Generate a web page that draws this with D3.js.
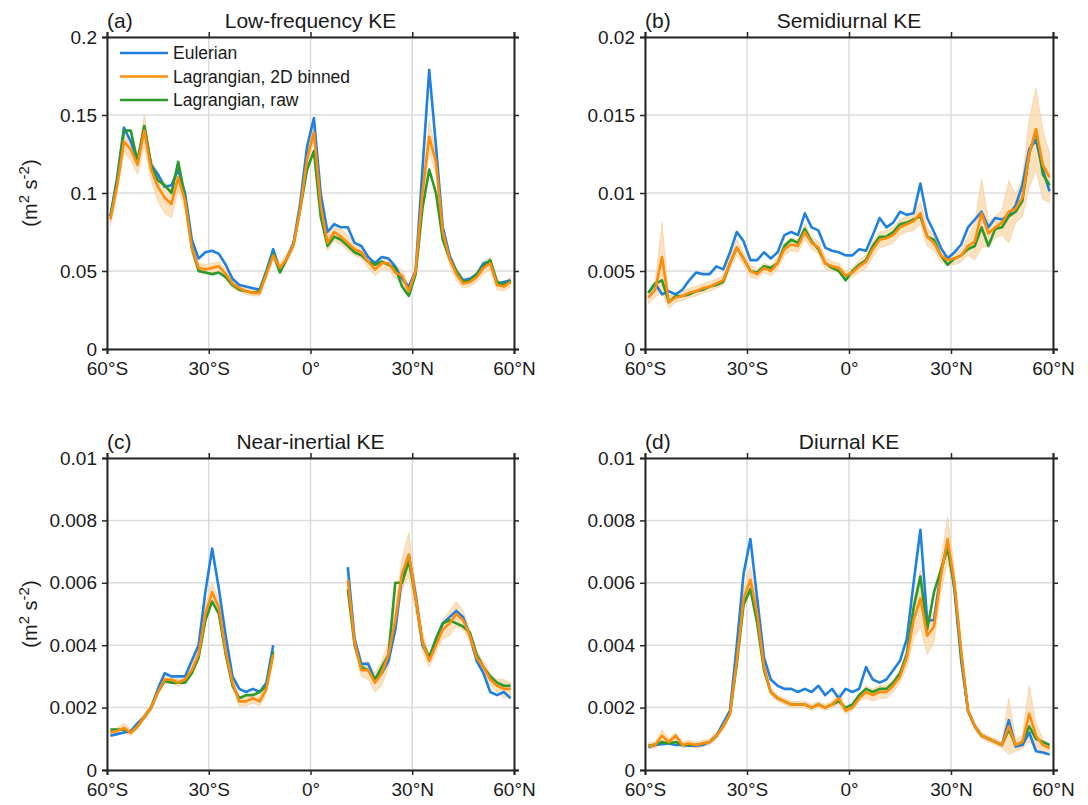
<!DOCTYPE html>
<html><head><meta charset="utf-8">
<script src="https://cdn.jsdelivr.net/npm/d3@7"></script>
<style>
body{margin:0;background:#fff}
svg{display:block}
text{font-family:"Liberation Sans",Arial,Helvetica,sans-serif;fill:#1a1a1a}
</style>
</head><body>
<svg id="chart" width="1088" height="805"></svg>
<script>
// ---------------- DATA ----------------
const lat = [-59,-57,-55,-53,-51,-49,-47,-45,-43,-41,-39,-37,-35,-33,-31,-29,-27,-25,-23,-21,-19,-17,-15,-13,-11,-9,-7,-5,-3,-1,1,3,5,7,9,11,13,15,17,19,21,23,25,27,29,31,33,35,37,39,41,43,45,47,49,51,53,55,57,59];

const xTickValues = [-60,-30,0,30,60];
const xTickLabels = ["60°S","30°S","0°","30°N","60°N"];

const seriesNames = ["Eulerian","Lagrangian, 2D binned","Lagrangian, raw"];

// (a) Low-frequency KE
const lfEulerian = [0.085,0.11,0.142,0.133,0.121,0.142,0.118,0.112,0.104,0.105,0.115,0.1,0.07,0.058,0.062,0.063,0.061,0.054,0.045,0.041,0.04,0.039,0.038,0.05,0.064,0.05,0.058,0.068,0.094,0.13,0.148,0.1,0.075,0.08,0.078,0.078,0.068,0.066,0.059,0.055,0.059,0.058,0.053,0.045,0.04,0.05,0.115,0.179,0.13,0.078,0.06,0.05,0.044,0.045,0.048,0.055,0.056,0.042,0.043,0.044];
const lfBinned = [0.083,0.105,0.133,0.128,0.118,0.14,0.115,0.104,0.097,0.093,0.11,0.095,0.065,0.052,0.051,0.052,0.053,0.048,0.042,0.039,0.037,0.036,0.036,0.048,0.06,0.052,0.058,0.067,0.09,0.122,0.139,0.092,0.068,0.075,0.072,0.068,0.064,0.062,0.056,0.051,0.055,0.055,0.049,0.047,0.037,0.05,0.1,0.136,0.12,0.075,0.058,0.048,0.042,0.043,0.046,0.052,0.055,0.041,0.04,0.043];
const lfRaw = [0.085,0.108,0.14,0.14,0.12,0.143,0.118,0.108,0.105,0.1,0.12,0.097,0.065,0.05,0.049,0.048,0.049,0.046,0.041,0.038,0.037,0.036,0.037,0.049,0.061,0.049,0.058,0.067,0.09,0.115,0.127,0.085,0.066,0.072,0.07,0.066,0.062,0.06,0.056,0.054,0.056,0.054,0.052,0.04,0.034,0.048,0.09,0.115,0.1,0.07,0.058,0.05,0.043,0.044,0.048,0.053,0.057,0.043,0.041,0.044];
const lfSpread = [0.004,0.005,0.007,0.007,0.006,0.01,0.007,0.009,0.01,0.009,0.008,0.006,0.004,0.003,0.003,0.003,0.003,0.003,0.003,0.002,0.002,0.002,0.002,0.003,0.003,0.003,0.003,0.003,0.004,0.005,0.005,0.005,0.005,0.006,0.005,0.005,0.004,0.004,0.004,0.004,0.004,0.004,0.004,0.004,0.003,0.004,0.007,0.01,0.008,0.005,0.004,0.004,0.003,0.003,0.003,0.004,0.004,0.003,0.003,0.003];

// (b) Semidiurnal KE
const sdEulerian = [0.0036,0.0042,0.0035,0.0037,0.0035,0.0038,0.0044,0.0049,0.0048,0.0048,0.0053,0.0051,0.0062,0.0075,0.0069,0.0057,0.0057,0.0062,0.0058,0.0062,0.0073,0.0075,0.0073,0.0087,0.0078,0.0076,0.0065,0.0063,0.0062,0.006,0.006,0.0064,0.0063,0.0073,0.0084,0.0078,0.0081,0.0088,0.0086,0.0087,0.0106,0.0084,0.0075,0.0065,0.0058,0.0062,0.0067,0.0078,0.0083,0.0088,0.0078,0.0084,0.0083,0.0086,0.0092,0.0105,0.0128,0.0134,0.0115,0.0101];
const sdBinned = [0.0033,0.0038,0.0059,0.003,0.0033,0.0034,0.0036,0.0037,0.0039,0.004,0.0042,0.0044,0.0055,0.0065,0.0058,0.005,0.0048,0.0052,0.005,0.0055,0.0064,0.0067,0.0066,0.0075,0.0068,0.0065,0.0055,0.0053,0.0052,0.0047,0.0049,0.0053,0.0056,0.0064,0.007,0.0071,0.0073,0.0078,0.008,0.0082,0.0087,0.0072,0.0068,0.006,0.0057,0.0058,0.006,0.0066,0.0069,0.0087,0.0074,0.0078,0.0081,0.0088,0.009,0.0097,0.0125,0.0141,0.0118,0.011];
const sdRaw = [0.0036,0.0042,0.0044,0.003,0.0034,0.0034,0.0035,0.0037,0.0038,0.004,0.0041,0.0043,0.0055,0.0065,0.0058,0.005,0.0049,0.0053,0.0052,0.0055,0.0066,0.007,0.0068,0.0077,0.0069,0.0064,0.0055,0.0052,0.005,0.0044,0.005,0.0054,0.0057,0.0066,0.0072,0.0072,0.0075,0.008,0.0081,0.0083,0.0085,0.0072,0.007,0.006,0.0054,0.0058,0.006,0.0064,0.0066,0.0078,0.0066,0.0077,0.0078,0.0085,0.0088,0.0095,0.0125,0.014,0.0112,0.0105];
const sdSpread = [0.0004,0.0005,0.0022,0.0004,0.0003,0.0003,0.0003,0.0003,0.0003,0.0003,0.0003,0.0003,0.0004,0.0005,0.0004,0.0004,0.0003,0.0003,0.0003,0.0004,0.0004,0.0004,0.0004,0.0005,0.0004,0.0004,0.0004,0.0003,0.0003,0.0003,0.0003,0.0004,0.0004,0.0005,0.0005,0.0005,0.0005,0.0005,0.0005,0.0006,0.0007,0.0006,0.0005,0.0004,0.0003,0.0004,0.0004,0.0006,0.0012,0.0022,0.0008,0.0007,0.0008,0.002,0.0009,0.0012,0.0022,0.0026,0.0022,0.0016];

// (c) Near-inertial KE (no data near the equator)
const niEulerian = [0.0011,0.00115,0.0012,0.00125,0.0015,0.0017,0.002,0.0026,0.0031,0.003,0.003,0.003,0.0035,0.004,0.0057,0.0071,0.0058,0.0043,0.003,0.0026,0.0025,0.0026,0.0025,0.0028,0.004,null,null,null,null,null,null,null,null,null,null,0.0065,0.0042,0.0034,0.0034,0.0029,0.0031,0.0035,0.0045,0.0062,0.0069,0.0056,0.004,0.0036,0.0042,0.0047,0.0049,0.0051,0.0049,0.0043,0.0035,0.0031,0.0025,0.0024,0.0025,0.0023];
const niBinned = [0.0012,0.00125,0.00135,0.0012,0.0014,0.0017,0.002,0.0025,0.0029,0.0029,0.0028,0.0029,0.0032,0.0037,0.005,0.0057,0.0052,0.0038,0.0028,0.0022,0.0022,0.0023,0.0022,0.0026,0.0037,null,null,null,null,null,null,null,null,null,null,0.0061,0.0041,0.0032,0.0032,0.0028,0.0031,0.0037,0.0048,0.0063,0.0069,0.0055,0.0041,0.0035,0.004,0.0045,0.0047,0.005,0.0048,0.0043,0.0036,0.0033,0.0029,0.0027,0.0026,0.0026];
const niRaw = [0.0013,0.0013,0.0013,0.0012,0.0014,0.0017,0.002,0.0025,0.00285,0.0028,0.0028,0.0028,0.0031,0.0036,0.0048,0.0054,0.005,0.0037,0.0027,0.0023,0.0024,0.0024,0.0025,0.0027,0.0038,null,null,null,null,null,null,null,null,null,null,0.0058,0.004,0.0033,0.0032,0.0029,0.0033,0.0037,0.006,0.006,0.0067,0.0055,0.0041,0.0036,0.0042,0.0047,0.0048,0.0047,0.0046,0.0044,0.0037,0.0033,0.003,0.0028,0.0027,0.0027];
const niSpread = [0.0001,0.0001,0.00015,0.0001,0.0001,0.0001,0.0001,0.0001,0.00012,0.00012,0.00012,0.00012,0.00015,0.0002,0.0003,0.0003,0.00025,0.0002,0.00015,0.00015,0.00015,0.00015,0.00015,0.00015,0.0002,null,null,null,null,null,null,null,null,null,null,0.0002,0.0002,0.0002,0.0003,0.0003,0.0004,0.0004,0.0004,0.0005,0.0007,0.0004,0.0003,0.0002,0.0002,0.0003,0.0004,0.0004,0.0003,0.0002,0.0002,0.0002,0.0002,0.0002,0.0003,0.0002];

// (d) Diurnal KE
const diEulerian = [0.00074,0.0008,0.00083,0.00085,0.0008,0.0008,0.00078,0.00078,0.0008,0.0009,0.0011,0.0015,0.0019,0.004,0.0063,0.0074,0.0055,0.0036,0.0029,0.0027,0.0026,0.0026,0.0025,0.0026,0.0025,0.0027,0.0024,0.0026,0.0023,0.0026,0.0025,0.0026,0.0033,0.0029,0.0028,0.0029,0.0032,0.0035,0.0042,0.006,0.0077,0.0048,0.0048,0.0063,0.0073,0.0058,0.0035,0.0019,0.0014,0.0011,0.001,0.0009,0.0008,0.0016,0.00075,0.0008,0.0012,0.0006,0.00056,0.0005];
const diBinned = [0.00077,0.0008,0.0011,0.0009,0.0011,0.0008,0.00085,0.0008,0.00085,0.0009,0.0011,0.0014,0.0018,0.0035,0.0055,0.0061,0.005,0.0033,0.0025,0.0023,0.0022,0.0021,0.0021,0.0021,0.002,0.0021,0.002,0.0021,0.0023,0.0019,0.002,0.0023,0.0025,0.0024,0.0025,0.0025,0.0027,0.003,0.0036,0.0048,0.0055,0.0043,0.0046,0.0062,0.0074,0.006,0.0038,0.0019,0.0014,0.0011,0.001,0.0009,0.0008,0.0014,0.0008,0.0009,0.0018,0.0011,0.0008,0.0007];
const diRaw = [0.00078,0.00082,0.0009,0.00085,0.0009,0.0008,0.0008,0.0008,0.00085,0.0009,0.0011,0.0014,0.0018,0.0034,0.0053,0.0058,0.0047,0.0032,0.0025,0.0023,0.0022,0.0021,0.0021,0.0021,0.002,0.0021,0.002,0.0021,0.0022,0.002,0.0021,0.0024,0.0026,0.0025,0.0026,0.0026,0.0028,0.0031,0.0037,0.0052,0.0062,0.0045,0.0057,0.0064,0.0071,0.0059,0.0037,0.0019,0.0014,0.0011,0.001,0.0009,0.0008,0.0013,0.0008,0.0009,0.0014,0.001,0.0009,0.0008];
const diSpread = [0.0001,0.0001,0.0002,0.0001,0.0001,0.0001,0.0001,0.0001,0.0001,0.0001,0.0001,0.0001,0.0001,0.0002,0.0003,0.0004,0.0003,0.0002,0.0001,0.0001,0.0001,0.0001,0.0001,0.0001,0.0001,0.0001,0.0001,0.0001,0.0002,0.0001,0.0001,0.0001,0.0002,0.0002,0.0002,0.0002,0.0002,0.0002,0.0003,0.0006,0.0009,0.0006,0.0005,0.0005,0.0007,0.0004,0.0002,0.0001,0.0001,0.0001,0.0001,0.0001,0.0001,0.0009,0.0002,0.0002,0.0009,0.0004,0.0002,0.0001];

const lfYTicks = [0,0.05,0.1,0.15,0.2];
const lfYLabels = ["0","0.05","0.1","0.15","0.2"];
const sdYTicks = [0,0.005,0.01,0.015,0.02];
const sdYLabels = ["0","0.005","0.01","0.015","0.02"];
const niYTicks = [0,0.002,0.004,0.006,0.008,0.01];
const niYLabels = ["0","0.002","0.004","0.006","0.008","0.01"];

// ---------------- STYLE / LAYOUT ----------------
const colors = {eul:"#1f80e0", bin:"#ff8c0a", raw:"#2a9a2a", band:"#fbdcb4", bandEdge:"#f3c890"};

const panels = [
  {tag:"(a)", title:"Low-frequency KE", left:107, top:37, w:407, h:312, ymax:0.2, yt:lfYTicks, yl:lfYLabels,
   eul:lfEulerian, bin:lfBinned, raw:lfRaw, spread:lfSpread, ylabel:true, legend:true},
  {tag:"(b)", title:"Semidiurnal KE", left:645, top:37, w:408, h:312, ymax:0.02, yt:sdYTicks, yl:sdYLabels,
   eul:sdEulerian, bin:sdBinned, raw:sdRaw, spread:sdSpread},
  {tag:"(c)", title:"Near-inertial KE", left:107, top:458, w:407, h:312, ymax:0.01, yt:niYTicks, yl:niYLabels,
   eul:niEulerian, bin:niBinned, raw:niRaw, spread:niSpread, ylabel:true},
  {tag:"(d)", title:"Diurnal KE", left:645, top:458, w:408, h:312, ymax:0.01, yt:niYTicks, yl:niYLabels,
   eul:diEulerian, bin:diBinned, raw:diRaw, spread:diSpread}
];

const svg = d3.select("#chart");

panels.forEach(p => {
  const g = svg.append("g").attr("transform", `translate(${p.left},${p.top})`);
  const x = d3.scaleLinear().domain([-60,60]).range([0,p.w]);
  const y = d3.scaleLinear().domain([0,p.ymax]).range([p.h,0]);

  // grid
  g.append("g").selectAll("line.gx").data(xTickValues).join("line")
    .attr("x1",d=>x(d)).attr("x2",d=>x(d)).attr("y1",0).attr("y2",p.h)
    .attr("stroke","#dcdcdc").attr("stroke-width",1.5);
  g.append("g").selectAll("line.gy").data(p.yt).join("line")
    .attr("y1",d=>y(d)).attr("y2",d=>y(d)).attr("x1",0).attr("x2",p.w)
    .attr("stroke","#dcdcdc").attr("stroke-width",1.5);

  const idx = d3.range(lat.length);
  // band
  const area = d3.area()
    .defined(i => p.bin[i] != null && p.spread[i] != null)
    .x(i => x(lat[i]))
    .y0(i => y(Math.max(0, p.bin[i] - p.spread[i])))
    .y1(i => y(p.bin[i] + p.spread[i]));
  g.append("path").attr("d", area(idx)).attr("fill", colors.band).attr("fill-opacity",0.85)
    .attr("stroke", colors.bandEdge).attr("stroke-width",0.6);

  const line = arr => d3.line().defined(i => arr[i] != null).x(i => x(lat[i])).y(i => y(arr[i]))(idx);
  [["eul",colors.eul],["raw",colors.raw],["bin",colors.bin]].forEach(([k,c]) => {
    g.append("path").attr("d", line(p[k])).attr("fill","none").attr("stroke",c)
      .attr("stroke-width",2.6).attr("stroke-linejoin","round");
  });

  // axes
  const fontTick = "19px";
  const ax = g.append("g").attr("transform",`translate(0,${p.h})`)
    .call(d3.axisBottom(x).tickValues(xTickValues).tickFormat((d,i)=>xTickLabels[i]).tickSize(5).tickPadding(8));
  const axT = g.append("g").call(d3.axisTop(x).tickValues(xTickValues).tickFormat("").tickSize(5));
  const ay = g.append("g")
    .call(d3.axisLeft(y).tickValues(p.yt).tickFormat((d,i)=>p.yl[i]).tickSize(5).tickPadding(5));
  const ayR = g.append("g").attr("transform",`translate(${p.w},0)`)
    .call(d3.axisRight(y).tickValues(p.yt).tickFormat("").tickSize(5));
  [ax,axT,ay,ayR].forEach(a => {
    a.select(".domain").attr("stroke","#262626").attr("stroke-width",2);
    a.selectAll(".tick line").attr("stroke","#262626").attr("stroke-width",1.5);
    a.selectAll("text").style("font-size",fontTick).attr("fill","#1a1a1a")
      .style("font-family",'"Liberation Sans",Arial,sans-serif');
  });
  ax.selectAll("text").attr("dy","0.71em");

  // titles
  g.append("text").attr("x",0).attr("y",-9).style("font-size","21px").text(p.tag);
  g.append("text").attr("x",p.w/2).attr("y",-9).attr("text-anchor","middle").style("font-size","21px").text(p.title);

  if (p.ylabel) {
    const t = g.append("text").attr("transform",`translate(${37-p.left},${p.h/2}) rotate(-90)`)
      .attr("text-anchor","middle").style("font-size","20px");
    t.append("tspan").text("(m");
    t.append("tspan").attr("dy",-8).style("font-size","15px").text("2");
    t.append("tspan").attr("dy",8).text(" s");
    t.append("tspan").attr("dy",-8).style("font-size","15px").text("-2");
    t.append("tspan").attr("dy",8).text(")");
  }

  if (p.legend) {
    const lg = g.append("g").attr("transform","translate(13,16)");
    const cs = [colors.eul, colors.bin, colors.raw];
    seriesNames.forEach((n,i) => {
      const row = lg.append("g").attr("transform",`translate(0,${i*23.5})`);
      row.append("line").attr("x1",0).attr("x2",48).attr("y1",0).attr("y2",0)
        .attr("stroke",cs[i]).attr("stroke-width",2.6);
      row.append("text").attr("x",53).attr("y",6).style("font-size","17.5px").text(n);
    });
  }
});
</script>
</body></html>
